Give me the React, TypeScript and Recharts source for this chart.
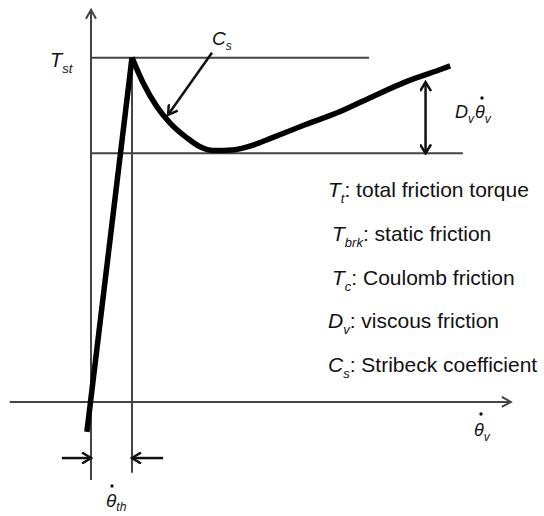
import React from 'react';
import { ComposedChart, Line, XAxis, YAxis, ReferenceLine } from 'recharts';

// Friction torque vs. velocity, normalised units: θ̇_th = 1, T_st = 10
const STICK_V = [-0.1, 1];
const STICK_T = [-0.87, 10];
const SLIP_V = [1, 1.27, 1.61, 1.93, 2.34, 2.66, 2.98, 3.46, 3.95, 4.41, 5.22, 6.05, 6.85, 7.66, 8.49, 8.76];
const SLIP_T = [10, 9.27, 8.57, 8.1, 7.67, 7.41, 7.3, 7.32, 7.46, 7.67, 8.05, 8.42, 8.86, 9.29, 9.64, 9.76];

const T_ST = 10; // breakaway level
const T_C = 7.22; // Coulomb level
const THETA_TH = 1; // threshold velocity

// extents of the guide lines and annotation arrows
const X_AXIS_SPAN = [-1.98, 10.24];
const Y_AXIS_SPAN = [-2.27, 11.39];
const T_ST_END = 6.78;
const T_C_END = 9.07;
const TH_LINE_BOTTOM = -2.06;
const VISCOUS_V = 8.16;
const VISCOUS_TOP = 9.29;
const CS_FROM = { v: 2.95, T: 10.14 };
const CS_TO = { v: 1.88, T: 8.34 };
const TH_ARROW_T = -1.63;
const TH_LEFT_FROM = -0.71;
const TH_RIGHT_FROM = 1.76;

const LEGEND = [
  { sym: 'T', sub: 't', text: ': total friction torque' },
  { sym: 'T', sub: 'brk', text: ': static friction' },
  { sym: 'T', sub: 'c', text: ': Coulomb friction' },
  { sym: 'D', sub: 'v', text: ': viscous friction' },
  { sym: 'C', sub: 's', text: ': Stribeck coefficient' },
];

const stick = STICK_V.map((v, i) => ({ v, T: STICK_T[i] }));
const slip = SLIP_V.map((v, i) => ({ v, T: SLIP_T[i] }));

const FONT = '"Liberation Sans", Arial, Helvetica, sans-serif';
const GUIDE = '#444';
const INK = '#111';

function Sym({ x, y, sym, sub, size, subSize, rest, shift }: any) {
  const d = shift ?? Math.round(size * 0.28);
  return (
    <text x={x} y={y} fontSize={size} fontFamily={FONT} fill={INK}>
      <tspan fontStyle="italic">{sym}</tspan>
      <tspan fontStyle="italic" fontSize={subSize} dy={d}>{sub}</tspan>
      {rest ? <tspan dy={-d}>{rest}</tspan> : null}
    </text>
  );
}

export default function App() {
  return (
    <div style={{ position: 'absolute', left: 0, top: 0, background: '#fff' }}>
      <ComposedChart width={544} height={516} margin={{ top: 6, right: 2, bottom: 28, left: 9 }}>
        <defs>
          <marker id="headGuide" viewBox="0 -6 12 12" refX={10} refY={0} markerWidth={12} markerHeight={12}
            markerUnits="userSpaceOnUse" orient="auto-start-reverse">
            <path d="M1,-5 L10,0 L1,5" fill="none" stroke={GUIDE} strokeWidth={2} />
          </marker>
          <marker id="headInk" viewBox="0 -6 12 12" refX={10} refY={0} markerWidth={12} markerHeight={12}
            markerUnits="userSpaceOnUse" orient="auto-start-reverse">
            <path d="M1,-5.5 L10,0 L1,5.5" fill="none" stroke={INK} strokeWidth={2.5} />
          </marker>
        </defs>
        <XAxis type="number" dataKey="v" domain={[-2, 11]} hide allowDataOverflow />
        <YAxis type="number" dataKey="T" domain={[-2.5, 11.5]} hide allowDataOverflow />

        {/* axes */}
        <ReferenceLine segment={[{ x: X_AXIS_SPAN[0], y: 0 }, { x: X_AXIS_SPAN[1], y: 0 }]}
          stroke={GUIDE} strokeWidth={2} markerEnd="url(#headGuide)" />
        <ReferenceLine segment={[{ x: 0, y: Y_AXIS_SPAN[0] }, { x: 0, y: Y_AXIS_SPAN[1] }]}
          stroke={GUIDE} strokeWidth={2} markerEnd="url(#headGuide)" />

        {/* level guides */}
        <ReferenceLine segment={[{ x: 0, y: T_ST }, { x: T_ST_END, y: T_ST }]} stroke={GUIDE} strokeWidth={2} />
        <ReferenceLine segment={[{ x: 0, y: T_C }, { x: T_C_END, y: T_C }]} stroke={GUIDE} strokeWidth={2} />
        <ReferenceLine segment={[{ x: THETA_TH, y: T_ST }, { x: THETA_TH, y: TH_LINE_BOTTOM }]} stroke={GUIDE} strokeWidth={2} />

        {/* annotation arrows */}
        <ReferenceLine segment={[{ x: VISCOUS_V, y: T_C }, { x: VISCOUS_V, y: VISCOUS_TOP }]}
          stroke={INK} strokeWidth={2.5} markerStart="url(#headInk)" markerEnd="url(#headInk)" />
        <ReferenceLine segment={[{ x: CS_FROM.v, y: CS_FROM.T }, { x: CS_TO.v, y: CS_TO.T }]}
          stroke={INK} strokeWidth={2.5} markerEnd="url(#headInk)" />
        <ReferenceLine segment={[{ x: TH_LEFT_FROM, y: TH_ARROW_T }, { x: 0, y: TH_ARROW_T }]}
          stroke={INK} strokeWidth={2.5} markerEnd="url(#headInk)" />
        <ReferenceLine segment={[{ x: TH_RIGHT_FROM, y: TH_ARROW_T }, { x: THETA_TH, y: TH_ARROW_T }]}
          stroke={INK} strokeWidth={2.5} markerEnd="url(#headInk)" />

        {/* friction curve */}
        <Line data={stick} dataKey="T" type="linear" stroke="#000" strokeWidth={5.5}
          dot={false} activeDot={false} isAnimationActive={false} />
        <Line data={slip} dataKey="T" type="monotone" stroke="#000" strokeWidth={5.5}
          dot={false} activeDot={false} isAnimationActive={false} />

        {/* symbols */}
        <Sym x={50} y={67} sym="T" sub="st" size={20} subSize={13} />
        <Sym x={212} y={45} sym="C" sub="s" size={19} subSize={12} />
        <Sym x={455} y={118} sym="D" sub="v" size={18} subSize={12} />
        <Sym x={475} y={118} sym="θ" sub="v" size={18} subSize={12} />
        <circle cx={482} cy={98} r={1.7} fill={INK} />
        <Sym x={474} y={436} sym="θ" sub="v" size={18} subSize={12} />
        <circle cx={481} cy={414} r={1.7} fill={INK} />
        <Sym x={106} y={507} sym="θ" sub="th" size={19} subSize={12} shift={4} />
        <circle cx={112} cy={486} r={1.7} fill={INK} />

        {LEGEND.map((row, i) => (
          <Sym key={row.text} x={i === 1 || i === 2 ? 332 : 328} y={197 + i * 43.8}
            sym={row.sym} sub={row.sub} size={21} subSize={13} rest={row.text} />
        ))}
      </ComposedChart>
    </div>
  );
}
